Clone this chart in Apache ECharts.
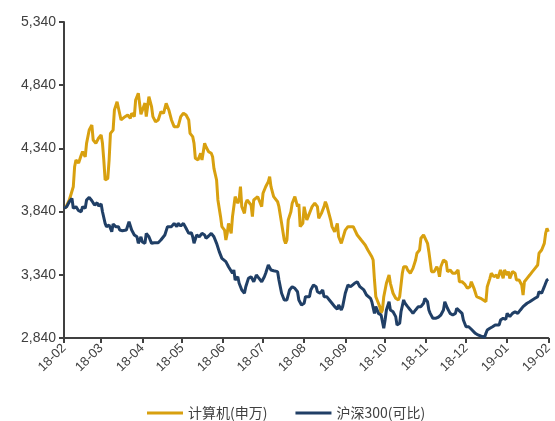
<!DOCTYPE html>
<html><head><meta charset="utf-8">
<script src="https://cdn.jsdelivr.net/npm/echarts@6/dist/echarts.min.js"></script>
<style>html,body{margin:0;padding:0;background:#fff}#c{width:555px;height:421px}</style>
</head><body><div id="c"></div>
<script>
// Days counted from 2018-02-01
const goldDays = [1,4,7,8,9,11,13,14,16,17,19,21,22,24,26,28,29,30,31,33,34,35,37,38,40,41,43,44,46,48,50,51,53,54,56,57,58,61,62,64,66,67,69,71,73,75,77,79,81,83,84,86,88,90,92,94,95,97,98,99,101,103,104,106,107,109,111,112,113,115,116,118,119,121,122,123,124,126,127,128,129,131,132,133,134,136,137,138,139,141,142,143,144,146,147,149,150,152,154,155,156,158,161,162,164,166,167,168,169,171,172,174,176,177,178,180,181,183,184,186,187,189,191,192,194,196,197,198,199,201,202,204,206,207,209,210,212,214,216,218,219,221,222,224,227,229,232,233,234,235,236,238,239,240,241,243,245,246,248,250,252,253,255,256,258,259,261,263,265,266,268,269,271,272,274,275,276,277,279,281,282,283,284,286,288,289,291,293,295,297,298,300,302,304,306,307,309,311,312,314,316,318,319,321,322,324,326,327,328,329,331,332,334,335,336,338,340,341,343,345,346,347,349,351,353,355,357,358,359,360,362,363,364,365];
const goldValues = [3866,3932,4037,4195,4248,4224,4288,4314,4274,4380,4485,4525,4406,4380,4420,4446,4380,4248,4090,4103,4248,4459,4485,4644,4709,4723,4565,4551,4591,4604,4578,4618,4591,4723,4776,4788,4610,4699,4591,4749,4670,4591,4551,4565,4630,4618,4697,4644,4565,4512,4525,4512,4591,4618,4604,4565,4459,4433,4380,4262,4248,4301,4248,4380,4353,4314,4301,4274,4182,4090,3932,3800,3721,3694,3615,3668,3747,3668,3800,3813,3958,3906,3932,4037,3879,3826,3906,3932,3945,3892,3800,3932,3945,3958,3971,3879,3985,4037,4077,4116,4037,3958,3918,3879,3747,3615,3589,3615,3773,3839,3906,3958,3879,3900,3721,3747,3879,3773,3800,3853,3879,3906,3879,3787,3826,3879,3918,3892,3879,3773,3721,3681,3747,3641,3589,3602,3694,3721,3721,3721,3708,3655,3655,3615,3576,3536,3483,3457,3299,3167,3141,3088,3038,3062,3167,3273,3338,3273,3194,3154,3141,3167,3352,3404,3404,3378,3352,3391,3457,3510,3536,3629,3655,3641,3589,3523,3510,3365,3365,3404,3378,3325,3404,3457,3444,3365,3378,3352,3352,3378,3285,3285,3267,3233,3246,3285,3233,3167,3154,3154,3141,3127,3246,3312,3352,3325,3338,3312,3299,3378,3312,3378,3338,3365,3312,3365,3352,3299,3299,3259,3180,3285,3312,3338,3365,3391,3417,3510,3523,3536,3589,3668,3708,3681];
const navyDays = [0,2,4,6,7,9,11,13,14,16,17,19,21,23,25,26,28,29,31,32,34,36,37,39,41,42,44,47,49,50,51,53,55,56,58,59,61,62,64,66,68,71,73,76,78,81,83,85,86,88,90,92,94,96,97,98,100,102,104,106,107,109,111,113,115,117,119,120,122,124,127,128,129,131,132,134,136,137,139,141,143,145,147,149,151,152,154,156,158,161,162,164,166,168,170,172,174,176,177,179,181,182,183,185,186,188,190,191,193,195,196,198,200,202,204,206,207,209,210,212,214,216,217,219,221,223,226,228,231,232,234,235,237,239,241,242,243,245,246,248,250,251,253,254,256,257,259,261,263,265,267,269,271,272,274,275,276,278,280,282,284,286,287,289,291,293,295,296,298,300,301,303,305,307,308,310,312,314,315,317,318,319,321,323,325,326,328,329,331,333,334,336,338,340,342,344,346,347,349,351,353,355,357,358,359,360,362,363,364,365];
const navyValues = [3866,3879,3918,3945,3866,3879,3847,3839,3879,3866,3932,3953,3926,3892,3910,3884,3900,3839,3747,3721,3734,3681,3742,3721,3721,3694,3689,3694,3760,3773,3694,3655,3641,3589,3641,3600,3589,3668,3641,3589,3594,3594,3615,3655,3721,3721,3747,3721,3747,3726,3747,3708,3668,3673,3641,3589,3655,3641,3668,3655,3629,3647,3668,3641,3589,3523,3470,3457,3444,3404,3352,3378,3299,3325,3273,3220,3194,3246,3312,3325,3285,3338,3312,3285,3325,3352,3417,3378,3372,3365,3299,3194,3141,3141,3220,3246,3233,3206,3141,3101,3115,3167,3180,3167,3220,3259,3246,3206,3194,3220,3167,3167,3141,3115,3088,3067,3101,3062,3088,3194,3259,3246,3259,3273,3285,3246,3220,3180,3154,3127,3035,3088,3035,3022,2917,2982,3062,3127,3062,3048,3009,2943,2956,3048,3141,3115,3088,3062,3035,3062,3088,3088,3115,3154,3127,3062,3035,2996,2996,3004,3022,3062,3127,3075,3035,3022,3035,3075,3055,3035,2982,2929,2929,2909,2917,2877,2864,2856,2850,2845,2877,2903,2917,2929,2943,2956,2943,2982,2996,2988,3035,3009,3035,3048,3035,3062,3088,3101,3115,3127,3141,3154,3167,3206,3220,3194,3246,3273,3299,3305];
const seriesNames = ['计算机(申万)', '沪深300(可比)'];
const yTicks = {min: 2840, max: 5340, step: 500};

const DAY = 86400000;
const start = new Date(2018, 1, 1).getTime();
const end = new Date(2019, 1, 1).getTime();
const toPairs = (days, vals) => days.map((d, i) => [start + d * DAY, vals[i]]);
const pad = n => (n < 10 ? '0' : '') + n;

const chart = echarts.init(document.getElementById('c'), null, {renderer: 'canvas'});
const axisColor = '#404040';
chart.setOption({
  animation: false,
  textStyle: {fontFamily: 'Liberation Sans, Arial, sans-serif'},
  grid: {left: 64, right: 4, top: 22, bottom: 83, containLabel: false},
  legend: {
    top: 401, left: 142,
    icon: 'rect', itemWidth: 36, itemHeight: 3, itemGap: 28,
    textStyle: {fontSize: 14, color: '#404040', fontFamily: 'Noto Sans CJK SC, Liberation Sans, sans-serif'},
    data: seriesNames
  },
  xAxis: {
    type: 'time', min: start, max: end,
    minInterval: 28 * DAY, maxInterval: 31 * DAY,
    splitLine: {show: false},
    axisLine: {lineStyle: {color: axisColor, width: 2}},
    axisTick: {show: true, length: 5, lineStyle: {color: axisColor, width: 2}},
    axisLabel: {
      rotate: 45, fontSize: 13, color: '#404040', margin: 8, interval: 0,
      showMinLabel: true, showMaxLabel: true, hideOverlap: false,
      formatter: v => { const d = new Date(v); return pad(d.getFullYear() % 100) + '-' + pad(d.getMonth() + 1); }
    }
  },
  yAxis: {
    type: 'value', min: yTicks.min, max: yTicks.max, interval: yTicks.step,
    splitLine: {show: false},
    axisLine: {show: true, lineStyle: {color: axisColor, width: 2}},
    axisTick: {show: true, length: 5, lineStyle: {color: axisColor, width: 2}},
    axisLabel: {fontSize: 14, color: '#404040', margin: 8,
      formatter: v => v.toLocaleString('en-US')}
  },
  series: [
    {name: seriesNames[0], type: 'line', data: toPairs(goldDays, goldValues), showSymbol: false,
     symbol: 'none', lineStyle: {color: '#D8A00F', width: 3}, itemStyle: {color: '#D8A00F'}, z: 2},
    {name: seriesNames[1], type: 'line', data: toPairs(navyDays, navyValues), showSymbol: false,
     symbol: 'none', lineStyle: {color: '#203F66', width: 3}, itemStyle: {color: '#203F66'}, z: 3}
  ]
});
</script></body></html>
